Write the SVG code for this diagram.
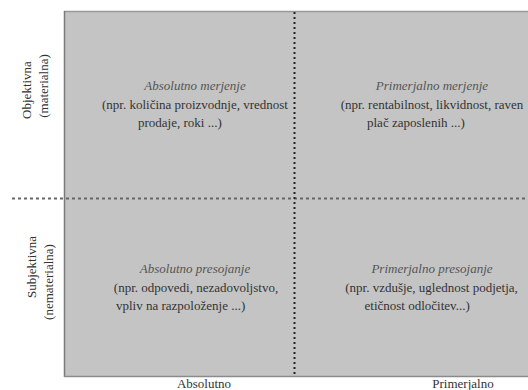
<svg xmlns="http://www.w3.org/2000/svg" width="528" height="390" viewBox="0 0 528 390">
<style>
text{font-family:'Liberation Serif','Times New Roman',serif;font-size:13px;fill:#333}
.t{font-style:italic;fill:#555}
.c{text-anchor:middle}
</style>
<rect width="528" height="390" fill="#fff"/>
<g id="quadrants">
<rect x="64.5" y="11.5" width="470" height="365" fill="#c4c4c4"/>
<line x1="64" y1="11.5" x2="528" y2="11.5" stroke="#999" stroke-width="1.5"/>
<line x1="64.5" y1="11" x2="64.5" y2="377" stroke="#7a7a7a" stroke-width="1.5"/>
<line x1="64" y1="376.5" x2="528" y2="376.5" stroke="#8a8a8a" stroke-width="1.5"/>
</g>
<g id="connectors">
<line x1="12" y1="198.5" x2="528" y2="198.5" stroke="#666" stroke-width="2" stroke-dasharray="3 3"/>
<line x1="294.5" y1="12" x2="294.5" y2="376" stroke="#222" stroke-width="2" stroke-dasharray="2 3"/>
</g>
<g id="q-tl">
<text class="t c" x="195" y="90">Absolutno merjenje</text>
<text class="c" x="195" y="109">(npr. količina proizvodnje, vrednost</text>
<text x="138" y="127">prodaje, roki ...)</text>
</g>
<g id="q-tr">
<text class="t c" x="432" y="90">Primerjalno merjenje</text>
<text class="c" x="432" y="109">(npr. rentabilnost, likvidnost, raven</text>
<text x="367" y="127">plač zaposlenih ...)</text>
</g>
<g id="q-bl">
<text class="t c" x="195" y="273">Absolutno presojanje</text>
<text class="c" x="196" y="292">(npr. odpovedi, nezadovoljstvo,</text>
<text x="116" y="310">vpliv na razpoloženje ...)</text>
</g>
<g id="q-br">
<text class="t c" x="432" y="273">Primerjalno presojanje</text>
<text class="c" x="431.5" y="292">(npr. vzdušje, uglednost podjetja,</text>
<text x="364.5" y="310">etičnost odločitev...)</text>
</g>
<g id="axis-x">
<text class="c" x="204" y="388">Absolutno</text>
<text class="c" x="463" y="388">Primerjalno</text>
</g>
<g id="axis-y">
<text class="c" transform="translate(31,90) rotate(-90)">Objektivna</text>
<text class="c" transform="translate(48,86) rotate(-90)">(materialna)</text>
<text class="c" transform="translate(36,267) rotate(-90)">Subjektivna</text>
<text class="c" transform="translate(53,282) rotate(-90)">(nematerialna)</text>
</g>
</svg>
